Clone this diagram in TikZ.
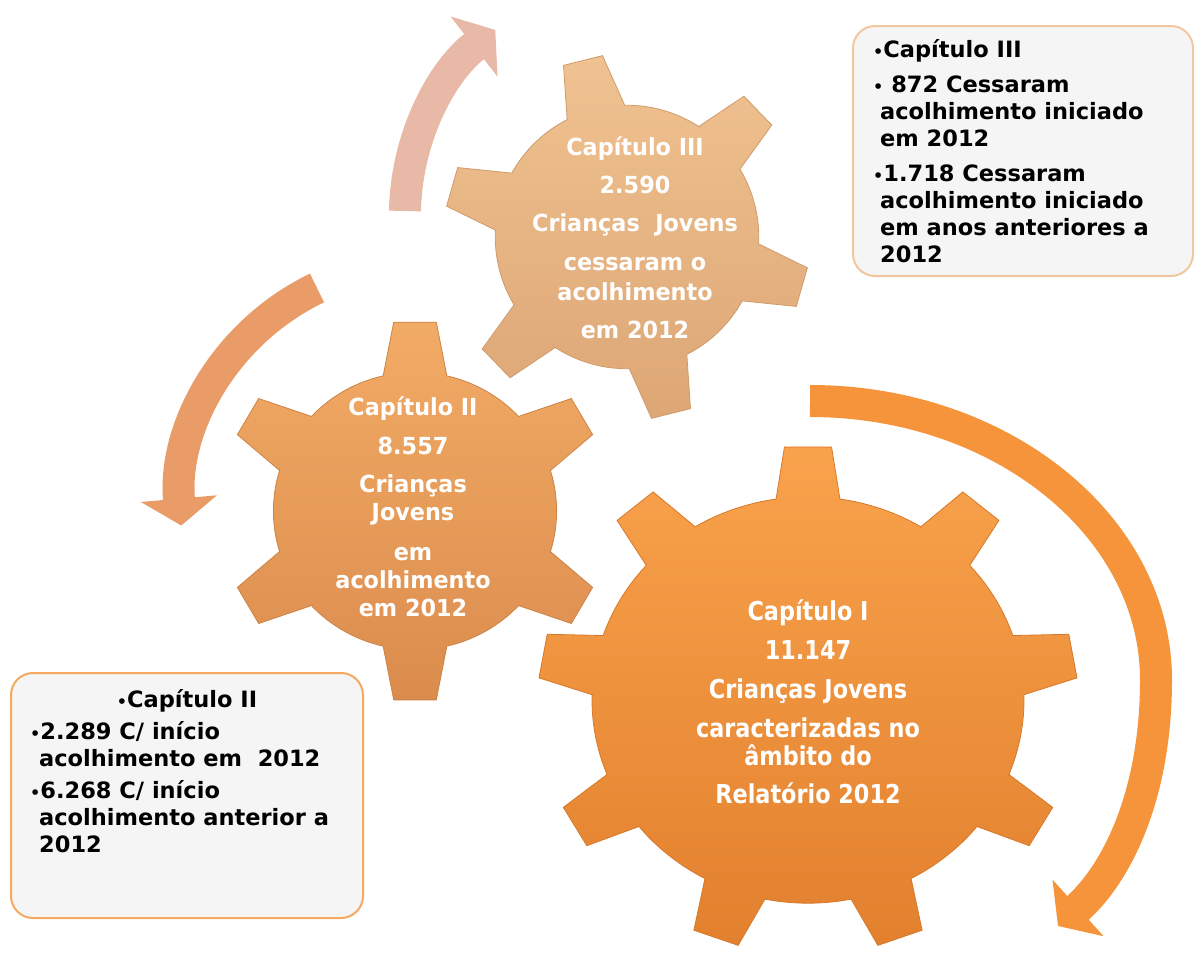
\documentclass[tikz,border=0pt]{standalone}
\usepackage{fontspec}
\setmainfont{DejaVu Sans}
\newfontfamily\gearfont{DejaVu Sans}[FakeStretch=0.86]
\newfontfamily\gearfontsmall{DejaVu Sans}[FakeStretch=0.95]
\usetikzlibrary{arrows.meta}
\definecolor{gearOneTop}{HTML}{F9A24C}
\definecolor{gearOneBottom}{HTML}{E2802E}
\definecolor{gearOneEdge}{HTML}{D77929}
\definecolor{gearTwoTop}{HTML}{F2AB66}
\definecolor{gearTwoBottom}{HTML}{DB8C4D}
\definecolor{gearTwoEdge}{HTML}{CD8345}
\definecolor{gearThreeTop}{HTML}{F0C291}
\definecolor{gearThreeBottom}{HTML}{DDA675}
\definecolor{gearThreeEdge}{HTML}{CF9B6B}
\definecolor{arrowOneColor}{HTML}{F5943A}
\definecolor{arrowTwoColor}{HTML}{EA9C68}
\definecolor{arrowThreeColor}{HTML}{E7B9A6}
\definecolor{boxFill}{HTML}{F5F5F5}
\definecolor{boxTwoLine}{HTML}{F5A860}
\definecolor{boxThreeLine}{HTML}{F3C79E}
\newcommand{\bulletmark}{{\fontsize{16}{16}\selectfont\textbullet}}

\begin{document}
\begin{tikzpicture}[
      x=1pt, y=-1pt,
      gearone/.style={top color=gearOneTop,bottom color=gearOneBottom,draw=gearOneEdge,line width=0.8pt},
      geartwo/.style={top color=gearTwoTop,bottom color=gearTwoBottom,draw=gearTwoEdge,line width=0.8pt},
      gearthree/.style={top color=gearThreeTop,bottom color=gearThreeBottom,draw=gearThreeEdge,line width=0.8pt},
      turn/.style={line width=32pt,draw=#1,-{Triangle[length=27pt,width=75pt]}},
      note/.style={rounded corners=22pt,fill=boxFill,draw=#1,line width=2pt,anchor=north west,inner sep=0pt},
      geartext/.style={text=white,align=center,inner sep=0pt},
      notetext/.style={align=left,inner sep=0pt,font=\bfseries\fontsize{22.5}{27}\selectfont}
    ]
    \useasboundingbox (0,0) rectangle (1194,962);

    % turning arrows
    \coordinate (arrowThreeTail) at (405,211);
    \coordinate (arrowTwoTail) at (317,288);
    \coordinate (arrowOneTail) at (810,401);
    \coordinate (arrowOneTip) at (1058,926);
    \draw[turn=arrowThreeColor] (arrowThreeTail) arc[start angle=181,end angle=232,radius=235];
    \draw[turn=arrowTwoColor] (arrowTwoTail) arc[start angle=244.5,end angle=175,radius=240];
    \draw[turn=arrowOneColor] (arrowOneTail) .. controls (1001,401) and (1156,526) .. (1156,680)
      .. controls (1156,790) and (1120,870) .. (arrowOneTip);

    % gears
    \begin{scope}[shift={(627,237)},scale=183]
      \path[gearthree] (243:0.72) \foreach \a in {256,316,...,556}{
        -- (\a-13:0.72) -- (\a-6.3:1) -- (\a+6.3:1) -- (\a+13:0.72)
        arc[start angle=\a+13,end angle=\a+47,radius=0.72]} -- cycle;
    \end{scope}
    \begin{scope}[shift={(415,511)},xscale=194,yscale=190]
      \path[geartwo] (257:0.73) \foreach \a in {270,330,...,570}{
        -- (\a-13:0.73) -- (\a-6.3:1) -- (\a+6.3:1) -- (\a+13:0.73)
        arc[start angle=\a+13,end angle=\a+47,radius=0.73]} -- cycle;
    \end{scope}
    \begin{scope}[shift={(808,700)},xscale=270,yscale=254]
      \path[gearone] (261.5:0.8) \foreach \a in {270,310,...,590}{
        -- (\a-8.5:0.8) -- (\a-5:1) -- (\a+5:1) -- (\a+8.5:0.8)
        arc[start angle=\a+8.5,end angle=\a+31.5,radius=0.8]} -- cycle;
    \end{scope}

    \node[geartext,font=\gearfontsmall\bfseries\fontsize{23.5}{28}\selectfont] (gearIII) at (635,238)
      {Capítulo III\\[10pt]2.590\\[10pt]Crianças\ \ Jovens\\[11pt]cessaram o\\[2pt]acolhimento\\[10pt]em 2012};
    \node[geartext,font=\gearfontsmall\bfseries\fontsize{23.5}{28}\selectfont] (gearII) at (413,507)
      {Capítulo II\\[11pt]8.557\\[10pt]Crianças\\Jovens\\[12pt]em\\acolhimento\\em 2012};
    \node[geartext,font=\gearfont\bfseries\fontsize{26}{28}\selectfont] (gearI) at (808,702)
      {Capítulo I\\[11pt]11.147\\[11pt]Crianças Jovens\\[11pt]caracterizadas no\\âmbito do\\[10pt]Relatório 2012};

    % notes
    \node[note=boxThreeLine,minimum width=340pt,minimum height=250pt] (noteIII) at (852,25) {};
    \node[notetext,anchor=north west] (noteIIItext) at (873,39)
      {\bulletmark Capítulo III\\[8pt]
       \bulletmark\ 872 Cessaram\\
       \hspace*{7pt}acolhimento iniciado\\
       \hspace*{7pt}em 2012\\[8pt]
       \bulletmark 1.718 Cessaram\\
       \hspace*{7pt}acolhimento iniciado\\
       \hspace*{7pt}em anos anteriores a\\
       \hspace*{7pt}2012};
    \node[note=boxTwoLine,minimum width=352pt,minimum height=245pt] (noteII) at (10,672) {};
    \node[notetext,anchor=base] (noteIItitle) at (187,707) {\bulletmark Capítulo II};
    \node[notetext,anchor=north west] (noteIItext) at (30,721)
      {\bulletmark 2.289 C/ início\\
       \hspace*{9pt}acolhimento em\ \ 2012\\[5pt]
       \bulletmark 6.268 C/ início\\
       \hspace*{9pt}acolhimento anterior a\\
       \hspace*{9pt}2012};
  \end{tikzpicture}
\end{document}
